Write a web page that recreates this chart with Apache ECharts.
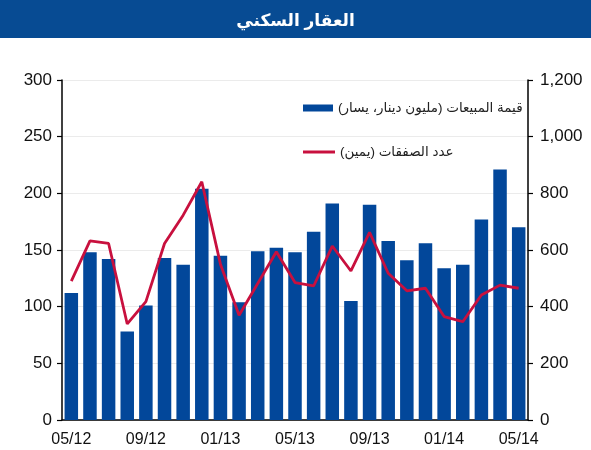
<!DOCTYPE html>
<html><head><meta charset="utf-8">
<script src="https://cdn.jsdelivr.net/npm/echarts@6/dist/echarts.min.js"></script>
<style>html,body{margin:0;padding:0;background:#fff}#c{width:591px;height:450px}</style>
</head><body><div id="c"></div>
<script>
var categories = ['05/12','06/12','07/12','08/12','09/12','10/12','11/12','12/12','01/13','02/13','03/13','04/13','05/13','06/13','07/13','08/13','09/13','10/13','11/13','12/13','01/14','02/14','03/14','04/14','05/14'];
var salesValue = [112,148,142,78,101,143,137,204,145,104,149,152,148,166,191,105,190,158,141,156,134,137,177,221,170];
var dealsCount = [490,632,623,339,418,623,723,841,550,370,482,594,485,473,614,526,662,518,456,465,365,347,441,476,465];
var leftTicks = [0,50,100,150,200,250,300];
var rightTicks = [0,200,400,600,800,1000,1200];
var titleText = 'العقار السكني';
var barName = 'قيمة المبيعات (مليون دينار، يسار)';
var lineName = 'عدد الصفقات (يمين)';

var FONT = '"Liberation Sans", "DejaVu Sans", sans-serif';
var chart = echarts.init(document.getElementById('c'), null, {renderer:'canvas'});
chart.setOption({
  animation:false,
  graphic:[{type:'rect', shape:{x:0,y:0,width:591,height:38}, style:{fill:'#074b93'}, z:-1}],
  title:{text:titleText, left:'center', top:8, textStyle:{color:'#fff', fontSize:17, fontWeight:'bold', fontFamily:FONT}},
  legend:[
    {data:[{name:barName, icon:'rect'}], left:298, top:96, itemWidth:30, itemHeight:7, itemGap:4,
     textStyle:{fontSize:13.5, color:'#222', fontFamily:FONT}},
    {data:[{name:lineName, icon:'rect', itemStyle:{color:'#c8103e'}}], left:298, top:140, itemWidth:32, itemHeight:3, itemGap:4,
     textStyle:{fontSize:13.5, color:'#222', fontFamily:FONT}}
  ],
  grid:{left:62, right:63, top:80, bottom:30},
  xAxis:[
    {type:'category', data:categories, boundaryGap:true,
     axisLine:{lineStyle:{color:'#000', width:1.5}},
     axisTick:{interval:0, length:4, lineStyle:{color:'#000', width:1.2}},
     axisLabel:{interval:3, fontSize:16, color:'#111', margin:12, fontFamily:FONT},
     splitLine:{show:false}},
    {type:'category', data:categories, boundaryGap:true, position:'bottom',
     axisLine:{show:false},
     axisTick:{interval:3, length:7, lineStyle:{color:'#000', width:1.2}},
     axisLabel:{show:false}, splitLine:{show:false}}
  ],
  yAxis:[
    {type:'value', min:leftTicks[0], max:leftTicks[leftTicks.length-1], interval:50, position:'left',
     axisLine:{show:true, lineStyle:{color:'#000', width:1.5}},
     axisTick:{show:true, length:5, lineStyle:{color:'#000', width:1.2}},
     axisLabel:{fontSize:17, color:'#111', margin:10, fontFamily:FONT},
     splitLine:{show:true, lineStyle:{color:'#ebebeb', width:1}}},
    {type:'value', min:rightTicks[0], max:rightTicks[rightTicks.length-1], interval:200, position:'right',
     axisLine:{show:true, lineStyle:{color:'#000', width:1.5}},
     axisTick:{show:true, length:5, lineStyle:{color:'#000', width:1.2}},
     axisLabel:{fontSize:17, color:'#111', margin:12, fontFamily:FONT,
       formatter:function(v){return v.toLocaleString('en-US');}},
     splitLine:{show:false}}
  ],
  series:[
    {name:barName, type:'bar', data:salesValue, xAxisIndex:0, yAxisIndex:0, barWidth:13.5,
     itemStyle:{color:'#02479a'}},
    {name:lineName, type:'line', data:dealsCount, xAxisIndex:0, yAxisIndex:1, symbol:'none',
     lineStyle:{color:'#c8103e', width:2.8}, itemStyle:{color:'#c8103e'}}
  ]
});
</script></body></html>
